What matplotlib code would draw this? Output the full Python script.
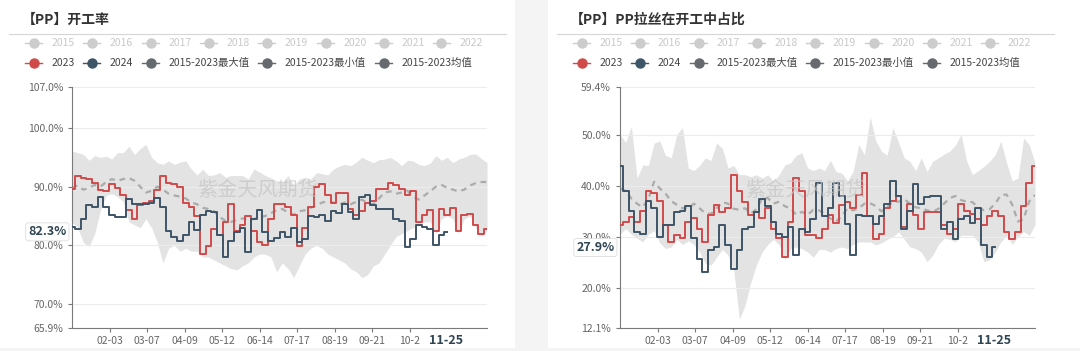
import numpy as np
import matplotlib
matplotlib.use("Agg")
import matplotlib.pyplot as plt
from matplotlib.lines import Line2D
from matplotlib.patches import Rectangle

plt.rcParams["font.family"] = ["Noto Sans CJK SC", "DejaVu Sans"]

# --- dados (um valor a cada 5 dias, do dia 0 ao dia 365) ---
days = np.arange(0, 366, 5)

tick_days = [33, 66, 99, 132, 165, 198, 231, 264, 297]
# o último rótulo aparece cortado pelo ponteiro no original
tick_labels = ["02-03", "03-07", "04-09", "05-12", "06-14", "07-17", "08-19", "09-21", "10-2"]

# Painel 1: PP 开工率
rate_2023 = [89.6, 91.9, 91.5, 91.3, 90.7, 89.5, 89.3, 90.5, 89.8, 88.5,
             86.0, 84.5, 86.8, 87.2, 87.6, 89.5, 91.9, 90.7, 90.5, 90.0,
             87.3, 86.5, 85.0, 78.5, 79.8, 82.8, 81.7, 84.0, 87.0, 82.5,
             83.4, 85.0, 82.5, 80.6, 80.0, 84.5, 87.0, 87.1, 86.5, 85.1,
             79.8, 83.0, 86.5, 90.0, 90.5, 88.5, 87.3, 89.0, 89.0, 86.2,
             85.1, 85.8, 87.3, 87.5, 89.6, 89.6, 90.7, 90.3, 89.6, 88.5,
             89.3, 84.0, 85.1, 86.0, 82.5, 86.2, 85.1, 86.3, 82.5, 85.2,
             85.4, 83.5, 82.0, 82.8]
rate_2024 = [83.1, 82.7, 84.5, 86.8, 86.5, 88.2, 86.5, 85.1, 84.8, 84.8,
             87.9, 87.1, 87.1, 87.1, 87.3, 88.1, 86.5, 82.5, 81.5, 80.8,
             81.7, 84.0, 82.6, 85.1, 85.9, 85.6, 81.8, 78.0, 80.8, 82.3,
             83.0, 78.8, 84.5, 86.0, 82.3, 80.8, 81.2, 82.3, 81.5, 83.0,
             80.6, 81.1, 85.0, 84.8, 85.1, 84.2, 85.8, 85.5, 87.0, 85.6,
             84.5, 88.3, 88.6, 86.8, 86.2, 86.2, 86.2, 84.5, 84.2, 79.7,
             81.0, 83.5, 83.1, 82.8, 80.0, 81.7, 82.3]
rate_mean = [89.8, 90.2, 89.5, 89.8, 90.3, 90.0, 90.8, 91.3, 91.0, 91.3,
             91.5, 91.0, 90.0, 89.0, 89.3, 90.0, 89.5, 88.8, 88.5, 88.3,
             88.0, 87.3, 87.0, 86.4, 86.2, 85.8, 84.8, 84.2, 84.0, 84.3,
             84.6, 84.3, 84.5, 84.8, 85.0, 85.5, 86.0, 86.2, 85.6, 85.2,
             85.8, 86.0, 86.4, 86.8, 87.3, 87.5, 87.3, 87.0, 87.3, 87.0,
             87.4, 87.8, 87.2, 87.0, 88.0, 89.0, 89.2, 88.8, 89.0, 89.3,
             88.3, 87.8, 88.5, 89.2, 90.0, 90.3, 89.8, 89.5, 89.2, 89.5,
             90.2, 90.6, 90.8, 90.8]
rate_max = [96.1, 95.8, 95.5, 94.5, 95.3, 95.0, 95.2, 94.7, 95.8, 95.8,
            96.9, 95.5, 96.5, 97.2, 95.0, 94.1, 93.8, 94.4, 93.8, 94.2,
            94.4, 93.0, 92.0, 93.0, 91.9, 92.0, 92.4, 91.6, 91.9, 91.9,
            91.9, 91.3, 93.0, 92.5, 91.9, 91.5, 91.0, 90.7, 91.9, 90.2,
            91.3, 91.6, 91.3, 92.4, 92.2, 92.0, 93.0, 93.5, 93.8, 93.6,
            94.2, 95.0, 94.5, 94.1, 94.6, 94.7, 95.0, 94.4, 93.6, 94.5,
            94.4, 93.8, 93.6, 94.0, 95.3, 94.5, 95.0, 94.1, 94.7, 95.0,
            95.5, 95.6, 94.8, 94.1]
rate_min = [84.0, 83.0, 80.5, 79.8, 82.0, 86.0, 88.5, 88.8, 88.3, 87.5,
            84.0, 83.5, 83.0, 84.5, 83.0, 80.5, 77.0, 79.5, 80.0, 79.0,
            79.5, 79.0, 79.0, 78.0, 78.0, 77.5, 77.0, 76.5, 76.0, 75.8,
            76.5, 77.0, 78.0, 78.5, 78.5, 78.0, 75.5, 77.0, 76.0, 74.5,
            76.5, 78.5, 79.5, 80.0, 79.5, 78.5, 78.0, 77.5, 77.0, 76.0,
            75.5, 74.5, 75.0, 76.5, 77.0, 78.5, 80.0, 81.5, 82.0, 82.5,
            83.0, 83.5, 84.0, 84.0, 82.0, 84.5, 85.0, 84.5, 82.0, 84.5,
            85.0, 83.0, 81.5, 82.5]

# Painel 2: PP拉丝在开工中占比
share_2023 = [32.3, 33.0, 33.8, 33.0, 35.0, 39.0, 38.5, 37.0, 32.3, 29.0,
              30.3, 29.7, 33.0, 33.6, 31.6, 29.0, 34.3, 36.3, 34.9, 35.6,
              42.2, 38.9, 36.9, 34.3, 34.9, 33.6, 35.6, 31.6, 29.7, 26.0,
              33.0, 41.5, 38.9, 30.3, 30.3, 29.7, 31.6, 34.3, 32.7, 36.3,
              36.9, 35.6, 38.2, 42.5, 34.0, 29.5, 30.5, 35.6, 37.0, 38.0,
              32.0, 36.5, 34.3, 31.6, 34.9, 34.9, 34.9, 32.3, 30.5, 31.6,
              36.5, 35.0, 34.5, 33.5, 32.3, 34.0, 35.0, 34.0, 31.0, 29.5,
              31.0, 36.0, 40.5, 43.8]
share_2024 = [43.8, 38.9, 35.0, 31.0, 30.5, 37.0, 35.6, 30.0, 32.3, 32.3,
              34.9, 35.0, 36.0, 29.7, 25.7, 23.1, 27.5, 28.0, 32.3, 28.4,
              23.7, 27.5, 31.6, 32.0, 34.9, 37.5, 36.0, 33.0, 30.5, 30.0,
              32.0, 26.4, 31.5, 31.0, 33.5, 40.5, 34.0, 35.6, 40.5, 38.0,
              32.5, 26.5, 34.3, 34.0, 34.0, 32.5, 34.0, 36.5, 40.9, 38.0,
              31.6, 35.0, 40.3, 36.5, 37.8, 38.0, 38.0, 31.6, 33.0, 29.5,
              33.5, 34.0, 32.8, 35.6, 28.4, 26.0, 27.9]
share_mean = [39.5, 39.0, 37.5, 36.5, 35.8, 37.5, 40.8, 39.5, 38.5, 37.0,
              36.3, 35.6, 35.6, 36.5, 35.6, 34.6, 34.5, 35.6, 36.8, 36.5,
              35.5, 35.3, 35.6, 34.6, 35.4, 37.5, 37.6, 36.5, 36.9, 36.0,
              35.6, 34.3, 34.9, 34.3, 35.3, 35.2, 34.5, 33.6, 33.0, 34.0,
              35.6, 35.2, 35.6, 36.5, 36.6, 36.0, 35.0, 35.8, 36.9, 36.9,
              37.4, 36.5, 35.8, 35.6, 35.2, 34.9, 35.5, 36.5, 37.6, 38.0,
              37.2, 36.9, 36.8, 35.8, 35.2, 35.4, 36.5, 38.2, 38.3, 36.3,
              33.0, 33.5, 37.0, 38.2]
share_max = [50.1, 48.5, 51.7, 41.5, 44.1, 44.0, 48.4, 48.8, 46.0, 45.5,
             50.1, 51.4, 43.5, 43.0, 44.0, 45.5, 45.0, 48.4, 47.4, 43.5,
             44.0, 42.2, 42.2, 41.8, 42.2, 41.5, 42.2, 40.9, 42.2, 44.1,
             44.5, 46.0, 46.5, 43.5, 43.0, 43.5, 43.0, 45.0, 42.8, 42.5,
             41.0, 42.8, 48.1, 46.1, 53.5, 48.8, 46.8, 46.0, 51.4, 48.5,
             45.5, 44.8, 43.0, 45.5, 42.8, 44.8, 45.5, 46.2, 46.8, 48.0,
             50.1, 44.8, 42.2, 43.0, 43.8, 44.8, 46.1, 48.8, 44.5, 41.0,
             41.5, 49.4, 48.0, 44.5]
share_min = [30.5, 31.6, 30.5, 29.7, 29.0, 30.5, 31.2, 28.8, 27.7, 28.0,
             29.5, 28.5, 29.2, 28.5, 27.0, 24.8, 24.4, 26.0, 27.5, 26.4,
             23.5, 13.8, 16.5, 21.0, 24.5, 27.0, 28.5, 29.5, 28.4, 25.5,
             27.7, 28.0, 27.7, 27.0, 26.0, 27.5, 27.5, 27.0, 27.7, 28.0,
             27.7, 28.5, 29.0, 29.0, 29.0, 28.4, 28.8, 29.5, 30.0, 31.0,
             29.5, 28.0, 27.7, 27.0, 25.1, 26.4, 28.5, 29.7, 29.5, 29.0,
             30.3, 30.3, 30.3, 29.0, 25.1, 25.5, 27.0, 29.0, 30.3, 28.5,
             30.0, 31.0, 30.3, 32.3]

legend_row1 = ["2015", "2016", "2017", "2018", "2019", "2020", "2021", "2022"]
legend_row2 = ["2023", "2024", "2015-2023最大值", "2015-2023最小值", "2015-2023均值"]

W, H = 1080, 351
RED = "#d04a4a"
NAVY = "#3e5467"
GREY = "#666a6e"


def fx(px):
    return px / W


def fy(py):
    return 1 - py / H


fig = plt.figure(figsize=(W / 100, H / 100), dpi=100, facecolor="#f4f4f4")


def legend_item(x, y, color, text, tcolor):
    fig.add_artist(Line2D([fx(x), fx(x + 17)], [fy(y), fy(y)], color=color, lw=1.0,
                          transform=fig.transFigure))
    fig.add_artist(Line2D([fx(x + 8.5)], [fy(y)], marker="o", ms=6.5, color=color,
                          transform=fig.transFigure))
    fig.text(fx(x + 27), fy(y), text, color=tcolor, fontsize=7.5, va="center", ha="left")


def draw_panel(x0, card_w, title, s23, s24, smean, smax, smin, ylim, yticks, yticklabels, now_val):
    # cartão branco
    fig.add_artist(Rectangle((fx(x0), fy(348)), card_w / W, 1, transform=fig.transFigure,
                             facecolor="white", edgecolor="none", zorder=-5))
    fig.text(fx(x0 + 22), fy(20), title, fontsize=10, fontweight="bold", color="#333333",
             va="center", ha="left")
    fig.add_artist(Line2D([fx(x0 + 9), fx(x0 + 506)], [fy(34), fy(34)], color="#d6d6d6",
                          lw=0.8, transform=fig.transFigure))

    # legenda
    for xpos, lab in zip([25, 83, 142, 200, 258, 317, 375, 433], legend_row1):
        legend_item(x0 + xpos, 43, "#cccccc", lab, "#c8c8c8")
    for xpos, lab, col in zip([25, 83, 142, 258, 375], legend_row2, [RED, NAVY, GREY, GREY, GREY]):
        legend_item(x0 + xpos, 63, col, lab, "#444444")

    ax = fig.add_axes([fx(x0 + 72), fy(328), 415 / W, 241 / H])
    ax.set_facecolor("none")
    ax.fill_between(days, smin, smax, color="#e3e3e3", lw=0, zorder=1)
    ax.plot(days, smean, color="#ababab", lw=1.6, ls=(0, (2.6, 2.2)), zorder=2)
    ax.plot(days, s23, color=RED, lw=1.4, drawstyle="steps-mid", zorder=3)
    ax.plot(days[:len(s24)], s24, color=NAVY, lw=1.4, drawstyle="steps-mid", zorder=4)

    ax.set_xlim(0, 365)
    ax.set_ylim(*ylim)
    ax.set_yticks(yticks)
    ax.set_yticklabels(yticklabels)
    ax.set_xticks(tick_days)
    ax.set_xticklabels(tick_labels)
    ax.yaxis.grid(True, color="#ececec", lw=0.8, zorder=0)
    for side in ["top", "right"]:
        ax.spines[side].set_visible(False)
    for side in ["left", "bottom"]:
        ax.spines[side].set_color("#7a7a7a")
    ax.tick_params(axis="both", colors="#7a7a7a", labelcolor="#666666", labelsize=7.5,
                   length=3, width=0.8)
    ax.tick_params(axis="x", pad=3)

    # marca d'água
    fig.text(fx(x0 + 258), fy(190), "紫金天风期货", fontsize=14.5, color="#c4c4c4",
             alpha=0.7, ha="center", va="center", zorder=10)

    # ponteiro (valor atual e data)
    ax.annotate(f"{now_val:.1f}%", xy=(0, now_val), xycoords=("axes fraction", "data"),
                xytext=(-4, 0), textcoords="offset points", ha="right", va="center",
                fontsize=9, fontweight="bold", color="#2f4554", annotation_clip=False,
                bbox=dict(boxstyle="round,pad=0.2", fc="white", ec="#dddddd", lw=0.6),
                zorder=20)
    ax.annotate("11-25", xy=(329, 0), xycoords=("data", "axes fraction"),
                xytext=(0, -4), textcoords="offset points", ha="center", va="top",
                fontsize=9, fontweight="bold", color="#2f4554", annotation_clip=False,
                zorder=20)
    return ax


draw_panel(0, 515, "【PP】开工率", rate_2023, rate_2024, rate_mean, rate_max, rate_min,
           (65.9, 107), [65.9, 70, 80, 90, 100, 107],
           ["65.9%", "70.0%", "80.0%", "90.0%", "100.0%", "107.0%"], rate_2024[-1])
draw_panel(548, 532, "【PP】PP拉丝在开工中占比", share_2023, share_2024, share_mean, share_max,
           share_min, (12.1, 59.4), [12.1, 20, 30, 40, 50, 59.4],
           ["12.1%", "20.0%", "30.0%", "40.0%", "50.0%", "59.4%"], share_2024[-1])

fig.savefig("out.png", dpi=100, facecolor=fig.get_facecolor())
